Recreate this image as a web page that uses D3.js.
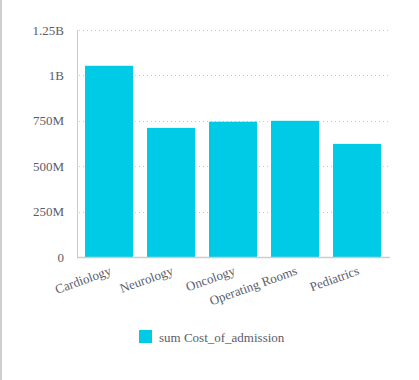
<!DOCTYPE html>
<html>
<head>
<meta charset="utf-8">
<script src="https://cdn.jsdelivr.net/npm/d3@7"></script>
<style>
  html, body { margin: 0; padding: 0; background: #fff; }
  svg { display: block; }
  svg text { font-family: 'Liberation Serif', 'Times New Roman', Times, serif !important; font-size: 13px; }
</style>
</head>
<body>
<script>
const categories = ["Cardiology", "Neurology", "Oncology", "Operating Rooms", "Pediatrics"];
const values = [1053e6, 711e6, 745e6, 750e6, 623e6];
const tickValues = [0, 250e6, 500e6, 750e6, 1000e6, 1250e6];
const tickLabels = ["0", "250M", "500M", "750M", "1B", "1.25B"];
const seriesName = "sum Cost_of_admission";

(function () {
const W = 419, H = 380;
const svg = d3.select("body").append("svg").attr("width", W).attr("height", H);

// left border
svg.append("rect").attr("x", 0).attr("y", 0).attr("width", 2).attr("height", H).attr("fill", "#cfcfcf");

const pLeft = 78, pRight = 388, pTop = 30, pBottom = 257;
const x = d3.scaleBand().domain(categories).range([pLeft, pRight]).paddingInner(0.226).paddingOuter(0.113);
const y = d3.scaleLinear().domain([0, 1250e6]).range([pBottom, pTop]);

const textColor = "#5a5d6b";

// grid
svg.append("g").selectAll("line").data(tickValues.slice(1)).join("line")
  .attr("x1", pLeft + 1).attr("x2", pRight)
  .attr("y1", d => Math.round(y(d)) + 0.5).attr("y2", d => Math.round(y(d)) + 0.5)
  .attr("stroke", "#c8c8c8").attr("stroke-width", 1).attr("stroke-dasharray", "1,3");

// y axis
const yAxis = d3.axisLeft(y).tickValues(tickValues).tickFormat((d, i) => tickLabels[i]).tickSize(0).tickPadding(14);
const gy = svg.append("g").attr("transform", `translate(${pLeft},0)`).call(yAxis);
gy.attr("font-family", null).attr("font-size", null);
gy.select(".domain").remove();
gy.selectAll("text").attr("fill", textColor);

// bars
svg.append("g").selectAll("rect").data(categories).join("rect")
  .attr("x", d => x(d)).attr("width", x.bandwidth())
  .attr("y", (d, i) => y(values[i])).attr("height", (d, i) => y(0) - y(values[i]))
  .attr("fill", "#00cbe6");

// axis lines
svg.append("line").attr("x1", pLeft - 0.5).attr("x2", pLeft - 0.5).attr("y1", pTop).attr("y2", pBottom + 1)
  .attr("stroke", "#cccccc").attr("stroke-width", 1);
svg.append("line").attr("x1", pLeft - 1).attr("x2", pRight + 2).attr("y1", pBottom + 0.5).attr("y2", pBottom + 0.5)
  .attr("stroke", "#cccccc").attr("stroke-width", 1.5);

// x labels
const xAxis = d3.axisBottom(x).tickSize(0).tickPadding(0);
const gx = svg.append("g").attr("transform", `translate(0,${pBottom})`).call(xAxis);
gx.attr("font-family", null).attr("font-size", null);
gx.select(".domain").remove();
gx.selectAll("text")
  .attr("fill", textColor)
  .attr("text-anchor", "end").attr("y", 0).attr("dy", 0)
  .attr("transform", "translate(3,17) rotate(-20)");

// legend
svg.append("rect").attr("x", 139).attr("y", 330).attr("width", 13).attr("height", 13).attr("fill", "#00cbe6");
svg.append("text").attr("x", 159).attr("y", 342).text(seriesName)
  .attr("fill", textColor);
})();
</script>
</body>
</html>
